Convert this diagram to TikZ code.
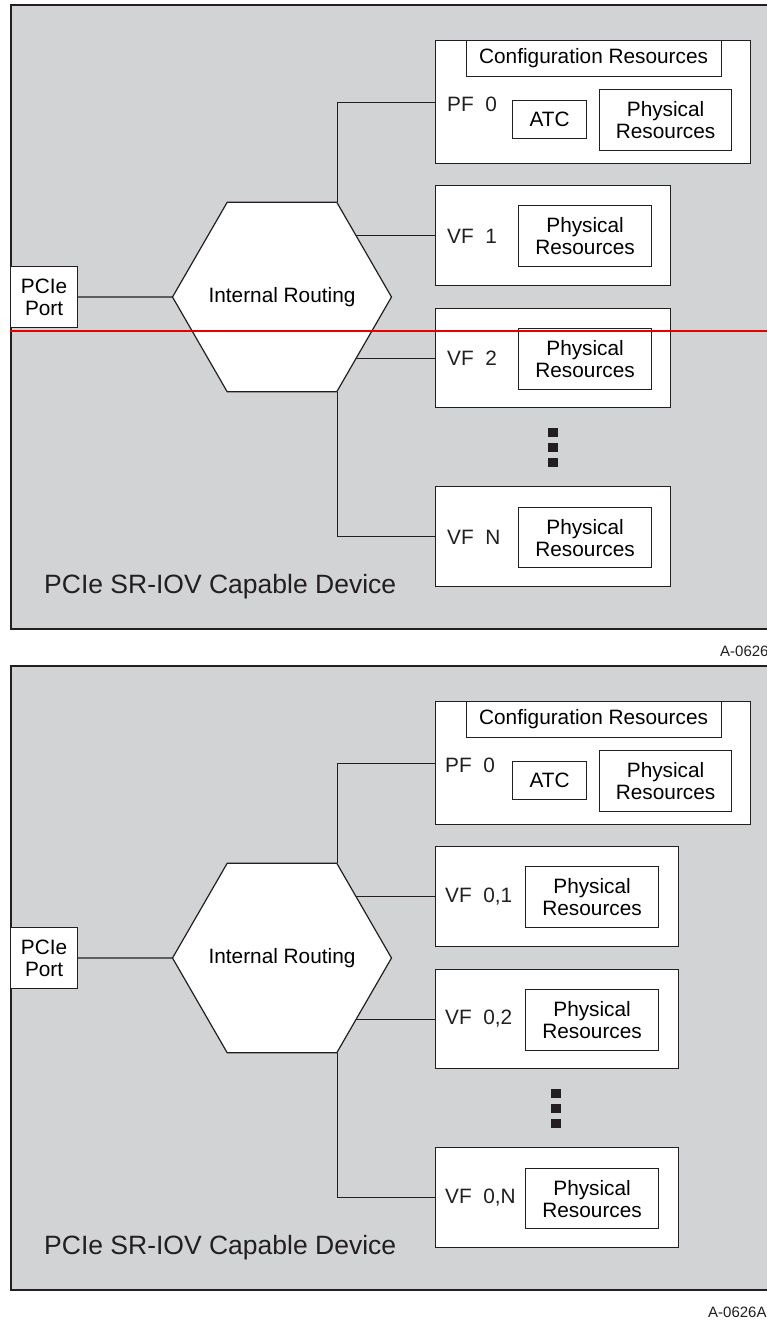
\documentclass[tikz,border=0pt]{standalone}
\usepackage{fontspec}
\setmainfont{Liberation Sans}
\usetikzlibrary{shapes.geometric}
\pgfdeclarelayer{bg}
\pgfdeclarelayer{mid}
\pgfsetlayers{bg,mid,main}
\definecolor{devgray}{RGB}{209,211,212}
\definecolor{ink}{RGB}{35,31,32}
\definecolor{redline}{RGB}{230,0,0}
\newcommand\mainfs{\fontsize{20.8}{22}\selectfont}
\newcommand\bigfs{\fontsize{26.5}{28}\selectfont}
\newcommand\smallfs{\fontsize{15}{16}\selectfont}

% #1 prefix, #2 VF box width, #3 phys x, #4 label x, #5 #6 #7 VF labels, #8 dot x
\newcommand\drawpanel[8]{%
  \begin{pgfonlayer}{bg}
    \node[devbox] (#1dev) at (10,-4) {};
  \end{pgfonlayer}
  \node[box, minimum width=315pt, minimum height=123pt] (#1pf) at (435,-40) {};
  \node[box, minimum width=255pt, minimum height=36pt] (#1cfg) at (465.5,-40) {Configuration Resources};
  \node[box, minimum width=74pt, minimum height=38pt] (#1atc) at (512,-100) {ATC};
  \node[box, minimum width=132pt, minimum height=61pt] (#1pfphys) at (599,-89) {Physical\\Resources};
  \node[lbl] (#1pflab) at (#4,-104) {PF~~0};
  \node[box, minimum width=#2, minimum height=100pt] (#1vfa) at (435,-185) {};
  \node[box, minimum width=133pt, minimum height=61pt] (#1vfaphys) at (#3,-205) {Physical\\Resources};
  \node[lbl] (#1vfalab) at (#4,-236) {#5};
  \node[box, minimum width=#2, minimum height=99pt] (#1vfb) at (435,-308) {};
  \node[box, minimum width=133pt, minimum height=61pt] (#1vfbphys) at (#3,-328) {Physical\\Resources};
  \node[lbl] (#1vfblab) at (#4,-358) {#6};
  \node[dotbox] (#1da) at (#8,-432) {};
  \node[dotbox] (#1db) at (#8,-447) {};
  \node[dotbox] (#1dc) at (#8,-462) {};
  \node[box, minimum width=#2, minimum height=100pt] (#1vfn) at (435,-486) {};
  \node[box, minimum width=133pt, minimum height=60pt] (#1vfnphys) at (#3,-507) {Physical\\Resources};
  \node[lbl] (#1vfnlab) at (#4,-537) {#7};
  \node[box, anchor=west, minimum width=67pt, minimum height=61pt] (#1port) at (10,-297) {PCIe\\Port};
  \node[hexbox] (#1hex) at (282,-297) {\makebox[0pt]{Internal Routing}};
  \node[biglbl] (#1devlab) at (44,-587) {PCIe SR-IOV Capable Device};
  \begin{pgfonlayer}{mid}
    \draw[conn] (#1port.east) -- (#1hex.west);
    \draw[conn] (#1hex.corner 1) |- (#1pf.west);
    \draw[conn] (#1vfa.west) -- (#1vfa.west -| #1hex.center);
    \draw[conn] (#1vfb.west) -- (#1vfb.west -| #1hex.center);
    \draw[conn] (#1hex.corner 5) |- (#1vfn.west);
  \end{pgfonlayer}
}

\begin{document}
\begin{tikzpicture}[x=1pt,y=1pt,
  box/.style={draw=ink, fill=white, line width=1.2pt, inner sep=0pt, anchor=north west, align=center, font=\mainfs},
  devbox/.style={draw=ink, fill=devgray, line width=1.5pt, inner sep=0pt, anchor=north west, minimum width=770pt, minimum height=624pt},
  hexbox/.style={draw=ink, fill=white, line width=1.2pt, regular polygon, regular polygon sides=6, minimum size=219pt, inner sep=0pt, font=\mainfs},
  lbl/.style={anchor=west, inner sep=0pt, font=\mainfs, text=ink},
  biglbl/.style={anchor=west, inner sep=0pt, font=\bigfs, text=ink},
  smalllbl/.style={anchor=west, inner sep=0pt, font=\smallfs, text=ink},
  dotbox/.style={fill=ink, inner sep=0pt, minimum width=10pt, minimum height=9pt},
  conn/.style={draw=ink, line width=1.1pt}]
\useasboundingbox (0,0) rectangle (766,-1320);
\begin{pgfonlayer}{bg}
\fill[white] (0,0) rectangle (766,-1320);
\end{pgfonlayer}

\drawpanel{t}{235pt}{518}{447}{VF~~1}{VF~~2}{VF~~N}{553}
\begin{scope}[yshift=-661pt]
\drawpanel{b}{243pt}{525}{445}{VF~~0,1}{VF~~0,2}{VF~~0,N}{556}
\end{scope}

\node[smalllbl] (cap1) at (720,-651) {A-0626};
\node[smalllbl] (cap2) at (708,-1312) {A-0626A};

\draw[redline, line width=1.5pt] (10,-331) -- (770,-331);
\end{tikzpicture}
\end{document}
